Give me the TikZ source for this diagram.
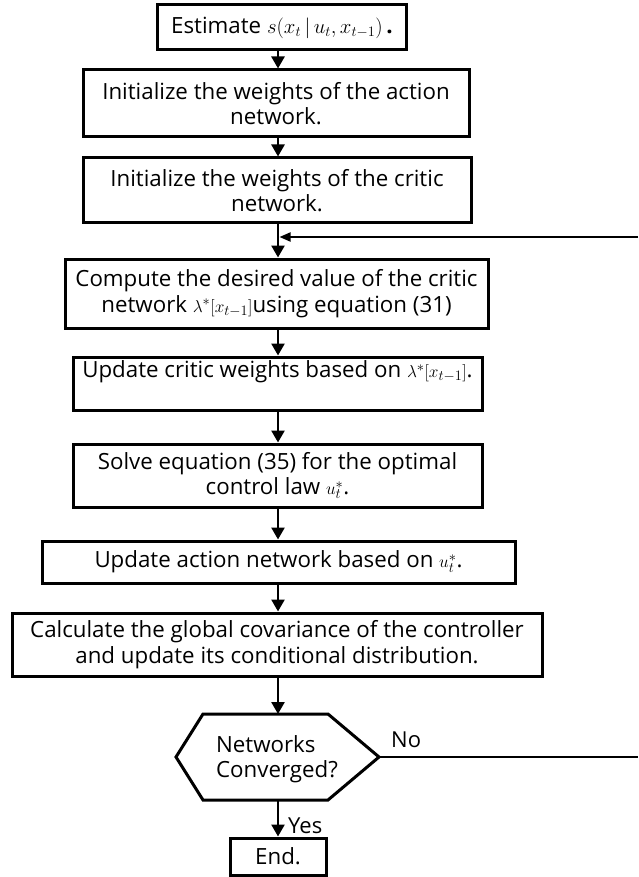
\documentclass[tikz,border=0pt]{standalone}
\usepackage{fontspec}
\setmainfont{Open Sans}
\usetikzlibrary{arrows.meta}
\newcommand{\smallmath}[1]{{\fontsize{19}{25}\selectfont$#1$}}
\begin{document}
\begin{tikzpicture}[x=1pt,y=-1pt,
  box/.style={draw,line width=3pt,align=center,inner sep=0pt,font=\fontsize{22.3}{25.5}\selectfont},
  txt/.style={align=center,inner sep=0pt,font=\fontsize{22.3}{25.5}\selectfont},
  lab/.style={inner sep=0pt,font=\fontsize{22}{25}\selectfont},
  arr/.style={line width=2.6pt,-{Triangle[width=13pt,length=12pt]}},
  farr/.style={line width=2pt,-{Triangle[width=9pt,length=11pt]}},
  ln/.style={line width=2.6pt}]
\useasboundingbox (0,0) rectangle (638,877);
\coordinate (c) at (278,0);

\node[box,minimum width=249pt,minimum height=45pt] (b1) at (282,27.5) {Estimate $s(x_t\,|\,u_t,x_{t-1})$\,{\bfseries .}};
\node[box,minimum width=386pt,minimum height=67pt] (b2) at (276,103.5) {Initialize the weights of the action\\network.};
\node[box,minimum width=388pt,minimum height=65pt] (b3) at (277,190.5) {Initialize the weights of the critic\\network.};
\node[box,minimum width=423pt,minimum height=69pt] (b4) at (276.5,293.5) {Compute the desired value of the critic\\network \smallmath{\lambda^{*}[x_{t-1}]}using equation (31)};
\node[box,minimum width=409pt,minimum height=53pt] (b5) at (277.5,383.5) {};
\node[txt,anchor=north] (b5t) at ([yshift=-5pt]b5.north) {Update critic weights based on \smallmath{\lambda^{*}[x_{t-1}]}.};
\node[box,minimum width=409pt,minimum height=63pt] (b6) at (277.5,475.5) {Solve equation (35) for the optimal\\control law \smallmath{u_t^{*}}.};
\node[box,minimum width=473pt,minimum height=42pt] (b7) at (278.5,562) {Update action network based on \smallmath{u_t^{*}}.};
\node[box,minimum width=530pt,minimum height=63pt] (b8) at (277,644.5) {Calculate the global covariance of the controller\\and update its conditional distribution.};

% decision hexagon
\coordinate (hl) at (176,757);
\coordinate (htl) at (203,714);
\coordinate (htr) at (328,714);
\coordinate (hr) at (379,757);
\coordinate (hbr) at (328,800);
\coordinate (hbl) at (203,800);
\draw[line width=3pt,line join=miter] (hl) -- (htl) -- (htr) -- (hr) -- (hbr) -- (hbl) -- cycle;
\node[txt,align=left] (dec) at (277,759) {Networks\\Converged?};

\node[box,minimum width=96pt,minimum height=37pt] (end) at (278,856.5) {End.};

\draw[arr] (b1.south -| c) -- (b2.north -| c);
\draw[arr] (b2.south -| c) -- (b3.north -| c);
\draw[arr] (b3.south -| c) -- (b4.north -| c);
\draw[arr] (b4.south -| c) -- (b5.north -| c);
\draw[arr] (b5.south -| c) -- (b6.north -| c);
\draw[arr] (b6.south -| c) -- (b7.north -| c);
\draw[arr] (b7.south -| c) -- (b8.north -| c);
\draw[arr] (b8.south -| c) -- (htl -| c);
\draw[arr] (hbl -| c) -- (end.north -| c);

\coordinate (fbR) at (638,237);
\coordinate (fbL) at (279.5,237);
\draw[farr] (fbR) -- (fbL);
\coordinate (noR) at (638,757);
\draw[ln] (hr) -- (noR);
\node[lab,anchor=west] (no) at (391,740) {No};
\node[lab,anchor=west] (yes) at (288,826) {Yes};
\end{tikzpicture}
\end{document}
